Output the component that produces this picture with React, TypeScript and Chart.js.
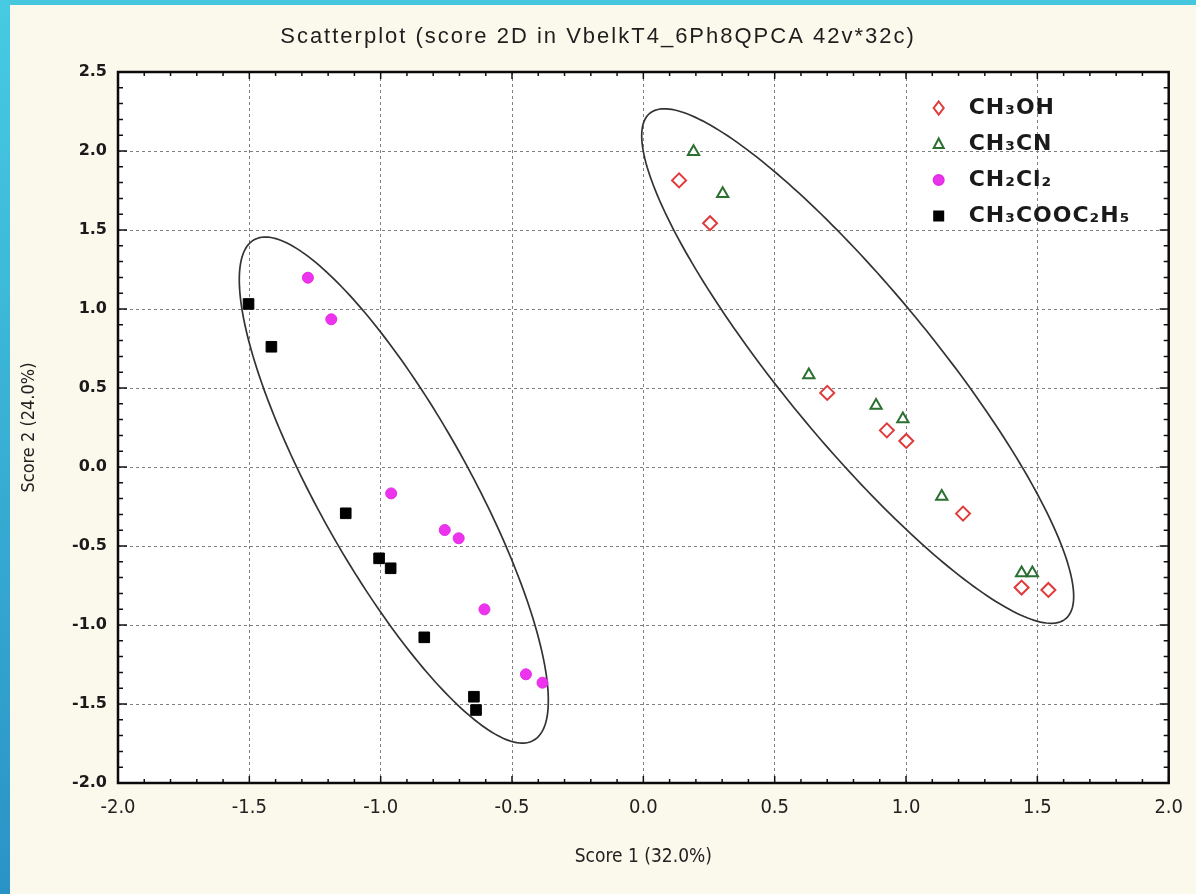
import React, { useEffect, useRef } from 'react';
import { Chart, registerables } from 'chart.js';

Chart.register(...registerables);

// ---- data ----
const seriesNames = ['CH₃OH', 'CH₃CN', 'CH₂Cl₂', 'CH₃COOC₂H₅'];

const methanolX = [0.136, 0.254, 0.700, 0.927, 1.001, 1.217, 1.440, 1.542];
const methanolY = [1.814, 1.543, 0.469, 0.232, 0.165, -0.295, -0.763, -0.778];

const acetonitrileX = [0.191, 0.302, 0.630, 0.886, 0.988, 1.136, 1.440, 1.481];
const acetonitrileY = [1.995, 1.730, 0.582, 0.390, 0.304, -0.186, -0.671, -0.671];

const dichloromethaneX = [-1.277, -1.188, -0.960, -0.756, -0.703, -0.605, -0.447, -0.384];
const dichloromethaneY = [1.198, 0.935, -0.167, -0.399, -0.451, -0.901, -1.312, -1.365];

const ethylAcetateX = [-1.503, -1.416, -1.133, -1.006, -0.962, -0.834, -0.645, -0.637];
const ethylAcetateY = [1.032, 0.761, -0.293, -0.578, -0.641, -1.078, -1.454, -1.538];

const xTickValues = [-2.0, -1.5, -1.0, -0.5, 0.0, 0.5, 1.0, 1.5, 2.0];
const yTickValues = [-2.0, -1.5, -1.0, -0.5, 0.0, 0.5, 1.0, 1.5, 2.0, 2.5];

// confidence ellipses: centre, major semi-axis vector, minor semi-axis vector (data units)
const ellipseRightCenter = [0.816, 0.639];
const ellipseRightMajor = [0.792, -1.599];
const ellipseRightMinor = [0.221, 0.307];
const ellipseLeftCenter = [-0.950, -0.146];
const ellipseLeftMajor = [0.532, -1.584];
const ellipseLeftMinor = [0.251, 0.236];

const titleText = 'Scatterplot (score 2D in VbelkT4_6Ph8QPCA 42v*32c)';
const xTitle = 'Score 1 (32.0%)';
const yTitle = 'Score 2 (24.0%)';

const zip = (xs: number[], ys: number[]) => xs.map((x, i) => ({ x, y: ys[i] }));

const NARROW = '"Liberation Sans Narrow", "DejaVu Sans Condensed", "Arial Narrow", sans-serif';

const bgPlugin = {
  id: 'plotBg',
  beforeDraw(chart: any) {
    const { ctx, chartArea } = chart;
    ctx.save();
    ctx.fillStyle = '#ffffff';
    ctx.fillRect(chartArea.left, chartArea.top, chartArea.right - chartArea.left, chartArea.bottom - chartArea.top);
    ctx.restore();
  },
};

const titlePlugin = {
  id: 'spacedTitle',
  afterDraw(chart: any) {
    const { ctx, chartArea } = chart;
    ctx.save();
    ctx.font = '22px "Liberation Sans", Arial, sans-serif';
    (ctx as any).letterSpacing = '2px';
    ctx.fillStyle = '#1e1e1e';
    ctx.textAlign = 'center';
    ctx.textBaseline = 'middle';
    ctx.fillText(titleText, 598, chartArea.top - 35);
    ctx.restore();
  },
};

const framePlugin = {
  id: 'frameEllipses',
  beforeDatasetsDraw(chart: any) {
    const { ctx, chartArea, scales } = chart;
    const xs = scales.x;
    const ys = scales.y;
    ctx.save();
    const ells = [
      [ellipseRightCenter, ellipseRightMajor, ellipseRightMinor],
      [ellipseLeftCenter, ellipseLeftMajor, ellipseLeftMinor],
    ];
    ctx.strokeStyle = '#333333';
    ctx.lineWidth = 1.7;
    ells.forEach(([c, M, m]) => {
      ctx.beginPath();
      for (let k = 0; k <= 240; k++) {
        const t = (k / 240) * Math.PI * 2;
        const dx = c[0] + Math.cos(t) * M[0] + Math.sin(t) * m[0];
        const dy = c[1] + Math.cos(t) * M[1] + Math.sin(t) * m[1];
        const px = xs.getPixelForValue(dx);
        const py = ys.getPixelForValue(dy);
        if (k === 0) ctx.moveTo(px, py);
        else ctx.lineTo(px, py);
      }
      ctx.closePath();
      ctx.stroke();
    });
    ctx.strokeStyle = '#111';
    ctx.lineWidth = 1.5;
    for (let v = -2.0; v <= 2.5001; v += 0.1) {
      const py = ys.getPixelForValue(v);
      const major = Math.abs(v * 2 - Math.round(v * 2)) < 1e-6;
      const len = major ? 9 : 5;
      ctx.beginPath();
      ctx.moveTo(chartArea.left, py); ctx.lineTo(chartArea.left + len, py);
      ctx.moveTo(chartArea.right, py); ctx.lineTo(chartArea.right - len, py);
      ctx.stroke();
    }
    for (let v = -2.0; v <= 2.0001; v += 0.1) {
      const px = xs.getPixelForValue(v);
      const major = Math.abs(v * 2 - Math.round(v * 2)) < 1e-6;
      const len = major ? 7 : 4;
      ctx.beginPath();
      ctx.moveTo(px, chartArea.top); ctx.lineTo(px, chartArea.top + len);
      ctx.moveTo(px, chartArea.bottom); ctx.lineTo(px, chartArea.bottom - len);
      ctx.stroke();
    }
    ctx.strokeStyle = '#0a0a0a';
    ctx.lineWidth = 2.5;
    ctx.strokeRect(chartArea.left, chartArea.top, chartArea.right - chartArea.left, chartArea.bottom - chartArea.top);
    ctx.restore();
  },
};

function drawMarker(ctx: CanvasRenderingContext2D, style: string, x: number, y: number, fill: string, stroke: string) {
  ctx.save();
  ctx.fillStyle = fill;
  ctx.strokeStyle = stroke;
  ctx.lineWidth = 2;
  ctx.beginPath();
  if (style === 'circle') {
    ctx.arc(x, y, 5, 0, Math.PI * 2);
  } else if (style === 'triangle') {
    ctx.moveTo(x, y - 5.5); ctx.lineTo(x + 5, y + 4); ctx.lineTo(x - 5, y + 4); ctx.closePath();
  } else if (style === 'rect') {
    ctx.rect(x - 4.5, y - 4.5, 9, 9);
  } else {
    ctx.moveTo(x, y - 6.5); ctx.lineTo(x + 5, y); ctx.lineTo(x, y + 6.5); ctx.lineTo(x - 5, y); ctx.closePath();
  }
  ctx.fill();
  ctx.stroke();
  ctx.restore();
}

const legendPlugin = {
  id: 'insideLegend',
  afterDraw(chart: any) {
    const { ctx, chartArea } = chart;
    const mx = chartArea.right - 230;
    const tx = chartArea.right - 200;
    const y0 = chartArea.top + 36;
    const dy = 36;
    ctx.save();
    chart.data.datasets.forEach((ds: any, i: number) => {
      const y = y0 + i * dy;
      drawMarker(ctx, ds.pointStyle, mx, y, ds.backgroundColor, ds.borderColor);
      ctx.font = 'bold 22px "DejaVu Sans", sans-serif';
      (ctx as any).letterSpacing = '1px';
      ctx.fillStyle = '#1a1a1a';
      ctx.textBaseline = 'middle';
      ctx.textAlign = 'left';
      ctx.fillText(ds.label, tx, y);
    });
    ctx.restore();
  },
};

export default function App() {
  const ref = useRef<HTMLCanvasElement | null>(null);

  useEffect(() => {
    if (!ref.current) return;
    const chart = new Chart(ref.current, {
      type: 'scatter',
      data: {
        datasets: [
          {
            label: seriesNames[0],
            data: zip(methanolX, methanolY),
            pointStyle: 'rectRot',
            pointRadius: 7,
            borderWidth: 2,
            borderColor: '#e03a3a',
            backgroundColor: '#ffffff',
          },
          {
            label: seriesNames[1],
            data: zip(acetonitrileX, acetonitrileY),
            pointStyle: 'triangle',
            pointRadius: 6.5,
            borderWidth: 2,
            borderColor: '#2b6f31',
            backgroundColor: '#ffffff',
          },
          {
            label: seriesNames[2],
            data: zip(dichloromethaneX, dichloromethaneY),
            pointStyle: 'circle',
            pointRadius: 5.5,
            borderWidth: 1,
            borderColor: '#e22ee2',
            backgroundColor: '#ee33ee',
          },
          {
            label: seriesNames[3],
            data: zip(ethylAcetateX, ethylAcetateY),
            pointStyle: 'rect',
            pointRadius: 7.5,
            borderWidth: 1,
            borderColor: '#000000',
            backgroundColor: '#000000',
          },
        ],
      },
      options: {
        animation: false,
        responsive: false,
        devicePixelRatio: 1,
        layout: { padding: { left: 0, right: 21, top: 72, bottom: 0 } },
        plugins: {
          legend: { display: false },
          tooltip: { enabled: false },
          title: { display: false },
        },
        scales: {
          x: {
            type: 'linear',
            min: -2,
            max: 2,
            afterFit: (s: any) => { s.height = 111; },
            afterBuildTicks: (s: any) => { s.ticks = xTickValues.map((v) => ({ value: v })); },
            ticks: {
              color: '#222',
              padding: 13,
              font: { family: NARROW, size: 20 },
              callback: (v: any) => Number(v).toFixed(1),
            },
            grid: { color: '#808080', lineWidth: 1, drawTicks: false },
            border: { display: false, dash: [3, 3] },
            title: {
              display: true,
              text: xTitle,
              color: '#222',
              font: { family: NARROW, size: 19 },
              padding: { top: 0, bottom: 26 },
            },
          },
          y: {
            type: 'linear',
            min: -2,
            max: 2.5,
            afterFit: (s: any) => { s.width = 118; },
            afterBuildTicks: (s: any) => { s.ticks = yTickValues.map((v) => ({ value: v })); },
            ticks: {
              color: '#1a1a1a',
              padding: 11,
              font: { family: '"DejaVu Sans", sans-serif', size: 16, weight: 'bold' },
              callback: (v: any) => Number(v).toFixed(1),
            },
            grid: { color: '#808080', lineWidth: 1, drawTicks: false },
            border: { display: false, dash: [3, 3] },
            title: {
              display: true,
              text: yTitle,
              color: '#222',
              font: { family: NARROW, size: 18 },
              padding: { top: 19, bottom: 0 },
            },
          },
        },
      },
      plugins: [bgPlugin, framePlugin, legendPlugin, titlePlugin],
    } as any);
    return () => chart.destroy();
  }, []);

  return (
    <div style={{ position: 'absolute', left: 0, top: 0, width: 1196, height: 894, background: '#fbf8ec', overflow: 'hidden' }}>
      <div style={{ position: 'absolute', left: 0, top: 0, width: 1196, height: 5, background: '#45c7de' }} />
      <div style={{ position: 'absolute', left: 0, top: 0, width: 10, height: 894, background: 'linear-gradient(#46cbe2, #2a93c6)' }} />
      <canvas ref={ref} width={1196} height={894} style={{ position: 'absolute', left: 0, top: 0, width: 1196, height: 894 }} />
    </div>
  );
}
